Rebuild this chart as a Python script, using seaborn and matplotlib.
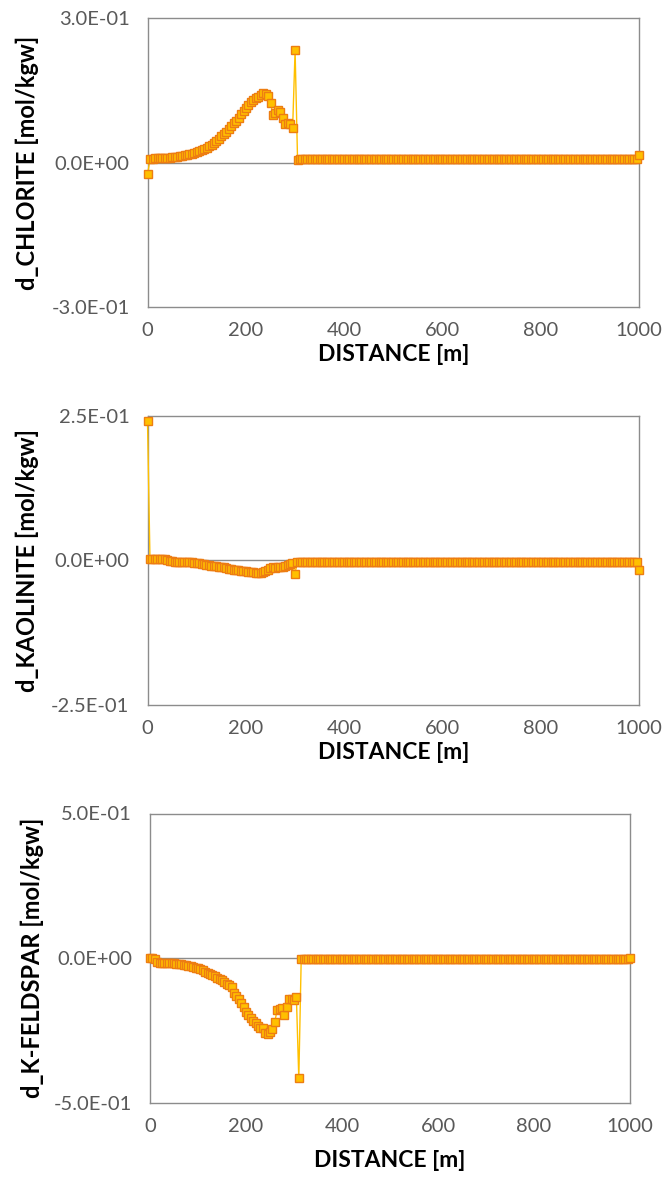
import matplotlib
matplotlib.use("Agg")
import matplotlib.pyplot as plt
import seaborn as sns
from matplotlib.ticker import FuncFormatter

# ---------------- DATA ----------------

# model cells, every 5 m from 0 to 1000 m
DISTANCE = list(range(0, 1001, 5))

D_CHLORITE = [
    -0.023, 0.008, 0.008, 0.009, 0.009, 0.009, 0.009, 0.010, 0.010, 0.010,
    0.011, 0.011, 0.012, 0.013, 0.014, 0.015, 0.016, 0.017, 0.018, 0.020,
    0.022, 0.024, 0.026, 0.028, 0.031, 0.034, 0.037, 0.041, 0.045, 0.049,
    0.054, 0.059, 0.064, 0.069, 0.075, 0.081, 0.087, 0.093, 0.100, 0.107,
    0.113, 0.119, 0.125, 0.130, 0.134, 0.137, 0.140, 0.144, 0.142, 0.138,
    0.124, 0.098, 0.103, 0.108, 0.105, 0.092, 0.079, 0.082, 0.080, 0.072,
    0.233, 0.006, 0.007, 0.007, 0.007, 0.007, 0.007, 0.007, 0.007, 0.007,
    0.007, 0.007, 0.007, 0.007, 0.007, 0.007, 0.007, 0.007, 0.007, 0.007,
    0.007, 0.007, 0.007, 0.007, 0.007, 0.007, 0.007, 0.007, 0.007, 0.007,
    0.007, 0.007, 0.007, 0.007, 0.007, 0.007, 0.007, 0.007, 0.007, 0.007,
    0.007, 0.007, 0.007, 0.007, 0.007, 0.007, 0.007, 0.007, 0.007, 0.007,
    0.007, 0.007, 0.007, 0.007, 0.007, 0.007, 0.007, 0.007, 0.007, 0.007,
    0.007, 0.007, 0.007, 0.007, 0.007, 0.007, 0.007, 0.007, 0.007, 0.007,
    0.007, 0.007, 0.007, 0.007, 0.007, 0.007, 0.007, 0.007, 0.007, 0.007,
    0.007, 0.007, 0.007, 0.007, 0.007, 0.007, 0.007, 0.007, 0.007, 0.007,
    0.007, 0.007, 0.007, 0.007, 0.007, 0.007, 0.007, 0.007, 0.007, 0.007,
    0.007, 0.007, 0.007, 0.007, 0.007, 0.007, 0.007, 0.007, 0.007, 0.007,
    0.007, 0.007, 0.007, 0.007, 0.007, 0.007, 0.007, 0.007, 0.007, 0.007,
    0.007, 0.007, 0.007, 0.007, 0.007, 0.007, 0.007, 0.007, 0.007, 0.007,
    0.007, 0.007, 0.007, 0.007, 0.007, 0.007, 0.007, 0.007, 0.007, 0.007,
    0.015,
]

D_KAOLINITE = [
    0.241, 0.003, 0.003, 0.003, 0.003, 0.002, 0.002, 0.002, 0.001, -0.001,
    -0.001, -0.002, -0.002, -0.002, -0.002, -0.002, -0.003, -0.003, -0.003, -0.004,
    -0.005, -0.005, -0.006, -0.006, -0.007, -0.008, -0.009, -0.009, -0.010, -0.011,
    -0.012, -0.012, -0.013, -0.014, -0.015, -0.016, -0.016, -0.017, -0.018, -0.018,
    -0.019, -0.020, -0.020, -0.020, -0.021, -0.021, -0.021, -0.020, -0.019, -0.016,
    -0.013, -0.012, -0.013, -0.012, -0.011, -0.012, -0.010, -0.008, -0.006, -0.005,
    -0.023, -0.002, -0.002, -0.002, -0.002, -0.002, -0.002, -0.002, -0.002, -0.002,
    -0.002, -0.002, -0.002, -0.002, -0.002, -0.002, -0.002, -0.002, -0.002, -0.002,
    -0.002, -0.002, -0.002, -0.002, -0.002, -0.002, -0.002, -0.002, -0.002, -0.002,
    -0.002, -0.002, -0.002, -0.002, -0.002, -0.002, -0.002, -0.002, -0.002, -0.002,
    -0.002, -0.002, -0.002, -0.002, -0.002, -0.002, -0.002, -0.002, -0.002, -0.002,
    -0.002, -0.002, -0.002, -0.002, -0.002, -0.002, -0.002, -0.002, -0.002, -0.002,
    -0.002, -0.002, -0.002, -0.002, -0.002, -0.002, -0.002, -0.002, -0.002, -0.002,
    -0.002, -0.002, -0.002, -0.002, -0.002, -0.002, -0.002, -0.002, -0.002, -0.002,
    -0.002, -0.002, -0.002, -0.002, -0.002, -0.002, -0.002, -0.002, -0.002, -0.002,
    -0.002, -0.002, -0.002, -0.002, -0.002, -0.002, -0.002, -0.002, -0.002, -0.002,
    -0.002, -0.002, -0.002, -0.002, -0.002, -0.002, -0.002, -0.002, -0.002, -0.002,
    -0.002, -0.002, -0.002, -0.002, -0.002, -0.002, -0.002, -0.002, -0.002, -0.002,
    -0.002, -0.002, -0.002, -0.002, -0.002, -0.002, -0.002, -0.002, -0.002, -0.002,
    -0.002, -0.002, -0.002, -0.002, -0.002, -0.002, -0.002, -0.002, -0.002, -0.002,
    -0.016,
]

D_KFELDSPAR = [
    0.000, 0.000, -0.002, -0.012, -0.016, -0.017, -0.017, -0.017, -0.018, -0.018,
    -0.018, -0.019, -0.020, -0.021, -0.022, -0.024, -0.026, -0.028, -0.030, -0.032,
    -0.035, -0.038, -0.042, -0.046, -0.050, -0.054, -0.058, -0.062, -0.067, -0.072,
    -0.076, -0.082, -0.088, -0.094, -0.099, -0.120, -0.130, -0.140, -0.156, -0.170,
    -0.184, -0.196, -0.207, -0.217, -0.225, -0.235, -0.242, -0.242, -0.258, -0.260,
    -0.254, -0.245, -0.219, -0.178, -0.175, -0.172, -0.196, -0.170, -0.140, -0.142,
    -0.143, -0.135, -0.415, -0.004, -0.004, -0.004, -0.004, -0.004, -0.004, -0.004,
    -0.004, -0.004, -0.004, -0.004, -0.004, -0.004, -0.004, -0.004, -0.004, -0.004,
    -0.004, -0.004, -0.004, -0.004, -0.004, -0.004, -0.004, -0.004, -0.004, -0.004,
    -0.004, -0.004, -0.004, -0.004, -0.004, -0.004, -0.004, -0.004, -0.004, -0.004,
    -0.004, -0.004, -0.004, -0.004, -0.004, -0.004, -0.004, -0.004, -0.004, -0.004,
    -0.004, -0.004, -0.004, -0.004, -0.004, -0.004, -0.004, -0.004, -0.004, -0.004,
    -0.004, -0.004, -0.004, -0.004, -0.004, -0.004, -0.004, -0.004, -0.004, -0.004,
    -0.004, -0.004, -0.004, -0.004, -0.004, -0.004, -0.004, -0.004, -0.004, -0.004,
    -0.004, -0.004, -0.004, -0.004, -0.004, -0.004, -0.004, -0.004, -0.004, -0.004,
    -0.004, -0.004, -0.004, -0.004, -0.004, -0.004, -0.004, -0.004, -0.004, -0.004,
    -0.004, -0.004, -0.004, -0.004, -0.004, -0.004, -0.004, -0.004, -0.004, -0.004,
    -0.004, -0.004, -0.004, -0.004, -0.004, -0.004, -0.004, -0.004, -0.004, -0.004,
    -0.004, -0.004, -0.004, -0.004, -0.004, -0.004, -0.004, -0.004, -0.004, -0.004,
    -0.004, -0.004, -0.004, -0.004, -0.004, -0.004, -0.004, -0.004, -0.004, -0.004,
    0.000,
]

Y_LABELS = ["d_CHLORITE [mol/kgw]", "d_KAOLINITE [mol/kgw]", "d_K-FELDSPAR [mol/kgw]"]
Y_LIMITS = [0.3, 0.25, 0.5]
X_TICKS = [0, 200, 400, 600, 800, 1000]
X_LABEL = "DISTANCE [m]"

# ---------------- STYLE ----------------

sns.set_style("white")
plt.rcParams["font.family"] = ["Lato", "DejaVu Sans"]

GRAY = "#8c8c8c"
LINE_COLOR = "#ffc000"
FACE_COLOR = "#ffc000"
EDGE_COLOR = "#ed7d12"

# axes boxes in pixels: left, top, right, bottom (figure is 665 x 1185)
BOXES = [(147.7, 18, 639, 307), (147.5, 416, 639, 705), (150, 813.5, 630, 1103)]
XLABEL_Y = [-0.165, -0.165, -0.2]
W, H = 665, 1185

fig = plt.figure(figsize=(6.65, 11.85), dpi=100)

all_values = [D_CHLORITE, D_KAOLINITE, D_KFELDSPAR]
for i, vals in enumerate(all_values):
    assert len(vals) == len(DISTANCE)
    l, t, r, b = BOXES[i]
    ax = fig.add_axes([l / W, 1 - b / H, (r - l) / W, (b - t) / H])

    ax.axhline(0, color=GRAY, lw=1.0, zorder=1)
    sns.lineplot(x=DISTANCE, y=vals, ax=ax, color=LINE_COLOR, lw=1.0,
                 marker="s", markersize=5.8, markerfacecolor=FACE_COLOR,
                 markeredgecolor=EDGE_COLOR, markeredgewidth=1.0,
                 clip_on=False, zorder=3)

    lim = Y_LIMITS[i]
    ax.set_xlim(0, 1000)
    ax.set_ylim(-lim, lim)
    ax.set_yticks([-lim, 0, lim])
    ax.set_xticks(X_TICKS)
    ax.yaxis.set_major_formatter(FuncFormatter(lambda v, p: f"{v:.1E}"))

    for s in ax.spines.values():
        s.set_visible(True)
        s.set_color(GRAY)
        s.set_linewidth(1.0)

    ax.tick_params(axis="both", direction="out", length=5, width=1.0,
                   color=GRAY, labelcolor="#595959", labelsize=14.5)
    ax.tick_params(axis="y", pad=8)
    ax.tick_params(axis="x", pad=6)

    ax.set_xlabel(X_LABEL, fontsize=16.5, fontweight="bold", color="#000000", va="center")
    ax.set_ylabel(Y_LABELS[i], fontsize=17, fontweight="bold", color="#000000", va="center")
    ax.xaxis.set_label_coords(0.5, XLABEL_Y[i])
    ax.yaxis.set_label_coords(-0.245, 0.5)

fig.savefig("out.png", dpi=100, facecolor="white")
